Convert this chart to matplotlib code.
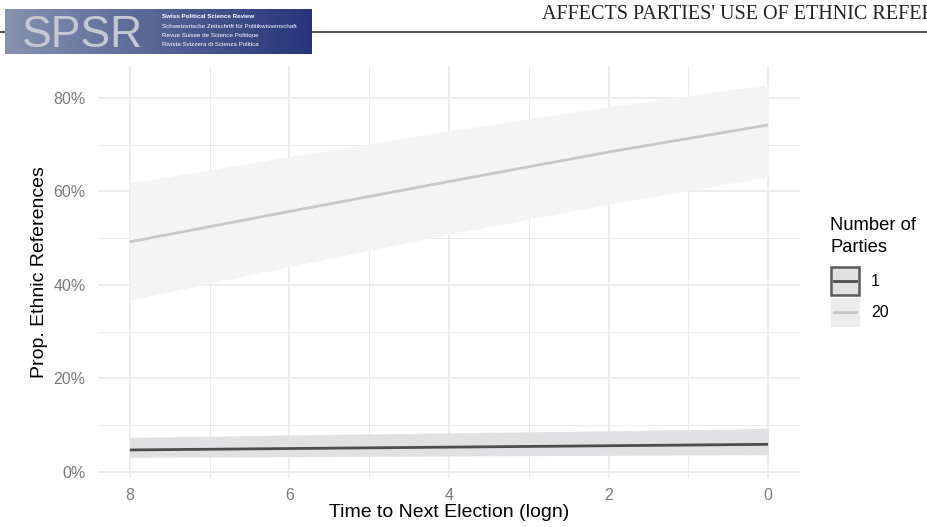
import numpy as np
import matplotlib
matplotlib.use("Agg")
import matplotlib.pyplot as plt
from matplotlib.patches import Rectangle
from matplotlib.lines import Line2D
from matplotlib.ticker import FuncFormatter, MultipleLocator

# ---- data ----
time_to_election = [8, 6, 4, 2, 0]
series_labels = ["1", "20"]
fit_1 = [4.7, 5.0, 5.3, 5.6, 5.9]
lower_1 = [3.1, 3.25, 3.4, 3.55, 3.7]
upper_1 = [7.4, 7.9, 8.35, 8.8, 9.3]
fit_20 = [49.2, 55.7, 62.1, 68.4, 74.2]
lower_20 = [36.8, 43.9, 50.8, 57.3, 63.1]
upper_20 = [61.8, 67.4, 72.9, 78.1, 82.8]
y_ticks = [0, 20, 40, 60, 80]
x_ticks = [8, 6, 4, 2, 0]

W, H = 927, 527
fig = plt.figure(figsize=(W / 100, H / 100), dpi=100)
plt.rcParams['font.family'] = ['Liberation Sans', 'DejaVu Sans']

# ---- header ----
fig.add_artist(Line2D([0, 1], [1 - 32 / H, 1 - 32 / H], color="#555555", lw=1.5,
                      transform=fig.transFigure, zorder=0))
LX0, LX1, LY0, LY1 = 5, 312, 9, 54
logo = fig.add_axes([LX0 / W, 1 - LY1 / H, (LX1 - LX0) / W, (LY1 - LY0) / H])
logo.set_zorder(5)
grad = np.linspace(0, 1, 256)
c0 = np.array([0x86, 0x92, 0xae]) / 255
c1 = np.array([0x26, 0x34, 0x7c]) / 255
img = (c0[None, :] * (1 - grad[:, None]) + c1[None, :] * grad[:, None])[None, :, :]
img = np.repeat(img, 10, axis=0)
logo.imshow(img, aspect="auto", extent=[0, 1, 0, 1])
logo.set_xlim(0, 1)
logo.set_ylim(0, 1)
logo.axis("off")
logo.text((22 - LX0) / (LX1 - LX0), (LY1 - 47) / (LY1 - LY0), "SPSR", fontsize=32,
          color="#c4c8d2", va="baseline", ha="left")
small = ["Swiss Political Science Review", "Schweizerische Zeitschrift für Politikwissenschaft",
         "Revue Suisse de Science Politique", "Rivista Svizzera di Scienza Politica"]
small_y = [16, 26, 35.5, 45]
for s, yy in zip(small, small_y):
    logo.text((162 - LX0) / (LX1 - LX0), (LY1 - yy) / (LY1 - LY0), s, fontsize=4.5,
              color="white", fontweight="bold" if s == small[0] else "normal",
              va="center", ha="left")
fig.text(542 / W, 1 - 19 / H, "AFFECTS PARTIES' USE OF ETHNIC REFERENCES",
         fontsize=14.5, family="Liberation Serif", color="#222222", va="baseline", ha="left")

# ---- main panel ----
ax = fig.add_axes([98 / W, 1 - 478 / H, (800 - 98) / W, (478 - 66) / H])
ax.fill_between(time_to_election, lower_20, upper_20, color="#f4f4f4", lw=0, zorder=2)
ax.fill_between(time_to_election, lower_1, upper_1, color="#e1e1e3", lw=0, zorder=2)
ax.plot(time_to_election, fit_20, color="#c8c8c8", lw=2.0, zorder=3,
        solid_capstyle="butt")
ax.plot(time_to_election, fit_1, color="#4d4d4d", lw=2.0, zorder=3,
        solid_capstyle="butt")

ax.set_xlim(8.4, -0.4)
ax.set_ylim(-1.3, 86.8)
ax.set_xticks(x_ticks)
ax.set_yticks(y_ticks)
ax.xaxis.set_minor_locator(MultipleLocator(1))
ax.yaxis.set_minor_locator(MultipleLocator(10))
ax.yaxis.set_major_formatter(FuncFormatter(lambda v, p: f"{v:.0f}%"))
ax.grid(which="major", color="#ebebeb", lw=1.3, zorder=0)
ax.grid(which="minor", color="#ebebeb", lw=0.7, zorder=0)
ax.set_axisbelow(True)
for sp in ax.spines.values():
    sp.set_visible(False)
ax.tick_params(which="both", length=0)
ax.tick_params(axis="both", labelsize=11.5, labelcolor="#7a7a7a")
ax.tick_params(axis="x", pad=7)
ax.tick_params(axis="y", pad=9)
ax.set_xlabel("Time to Next Election (logn)", fontsize=14, color="black", labelpad=1)
ax.set_ylabel("Prop. Ethnic References", fontsize=14, color="black", labelpad=4)

# ---- legend (manual, ggplot style) ----
fig.text(830 / W, 1 - 226 / H, "Number of", fontsize=13.2, va="center", ha="left")
fig.text(830 / W, 1 - 247 / H, "Parties", fontsize=13.2, va="center", ha="left")
keys = [("#4d4d4d", "#e1e1e3", "#5a5a5a", 1.8), ("#c8c8c8", "#ebebeb", "#ebebeb", 0.8)]
for i, (lab, (lc, fc, ec, elw)) in enumerate(zip(series_labels, keys)):
    y0 = 266 + i * 31
    fig.add_artist(Rectangle((831 / W, 1 - (y0 + 29) / H), 28 / W, 28 / H,
                             facecolor=fc, edgecolor=ec, lw=elw,
                             transform=fig.transFigure))
    fig.add_artist(Line2D([834 / W, 856 / W], [1 - (y0 + 14.5) / H] * 2, color=lc,
                          lw=2.0, transform=fig.transFigure))
    fig.text(871 / W, 1 - (y0 + 15.5) / H, lab, fontsize=11.5, va="center", ha="left")

fig.savefig("out.png", dpi=100)
